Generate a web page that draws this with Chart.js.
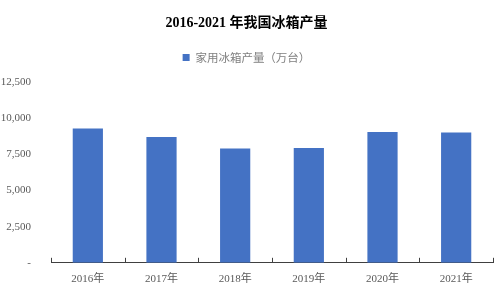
<!DOCTYPE html>
<html>
<head>
<meta charset="utf-8">
<script src="https://cdn.jsdelivr.net/npm/chart.js@4"></script>
<style>
  html, body { margin: 0; padding: 0; background: #fff; }
  #wrap { width: 501px; height: 295px; position: relative; }
</style>
</head>
<body>
<div id="wrap"><canvas id="fridgeChart"></canvas></div>
<script>
const years = ['2016年', '2017年', '2018年', '2019年', '2020年', '2021年'];
const output = [9300, 8720, 7910, 7950, 9060, 9020];
const yTicks = [0, 2500, 5000, 7500, 10000, 12500];

// small upward tick marks at the category boundaries
const innerTicks = {
    id: 'innerTicks',
    beforeInit(chart) {
        // a bit more room under the legend
        const lg = chart.legend;
        const origFit = lg.fit;
        lg.fit = function () {
            origFit.call(this);
            this.height += 9;
        };
    },
    afterDatasetsDraw(chart) {
        const x = chart.scales.x;
        const c = chart.ctx;
        const y0 = x.top;
        c.save();
        c.strokeStyle = '#404040';
        c.lineWidth = 1;
        for (let i = 0; i <= years.length; i++) {
            const px = Math.round(x.getPixelForValue(i - 0.5)) + 0.5;
            c.beginPath();
            c.moveTo(px, y0);
            c.lineTo(px, y0 - 5);
            c.stroke();
        }
        c.restore();
    }
};

const ctxFridge = document.getElementById('fridgeChart');
new Chart(ctxFridge, {
    type: 'bar',
    data: {
        labels: years,
        datasets: [{
            label: '家用冰箱产量（万台）',
            data: output,
            backgroundColor: '#4472C4',
            borderWidth: 0,
            categoryPercentage: 1,
            barPercentage: 0.41
        }]
    },
    plugins: [innerTicks],
    options: {
        responsive: true,
        maintainAspectRatio: false,
        animation: false,
        layout: { padding: { left: 0, right: 8, top: 11, bottom: 7 } },
        plugins: {
            title: {
                display: true,
                text: '2016-2021 年我国冰箱产量',
                color: '#000',
                font: { family: '"Liberation Serif", "Noto Sans CJK SC"', size: 14, weight: 'bold' },
                padding: { top: 4, bottom: 10 }
            },
            legend: {
                labels: {
                    color: '#7f7f7f',
                    boxWidth: 7,
                    boxHeight: 7,
                    font: { family: '"Noto Sans CJK SC"', size: 11.5 },
                    padding: 10
                }
            },
            tooltip: { enabled: false }
        },
        scales: {
            y: {
                min: 0,
                max: 12500,
                afterBuildTicks(axis) { axis.ticks = yTicks.map(v => ({ value: v })); },
                afterFit(axis) { axis.width = 51; },
                ticks: {
                    color: '#595959',
                    font: { family: '"Liberation Serif"', size: 11 },
                    padding: 12,
                    callback: v => v === 0 ? '-' : v.toLocaleString('en-US')
                },
                grid: { display: false },
                border: { display: false }
            },
            x: {
                ticks: {
                    color: '#595959',
                    font: { family: '"Liberation Serif", "Noto Sans CJK SC"', size: 11 },
                    padding: 2
                },
                grid: { display: false },
                border: { display: true, color: '#404040', width: 1 }
            }
        }
    }
});
</script>
</body>
</html>
